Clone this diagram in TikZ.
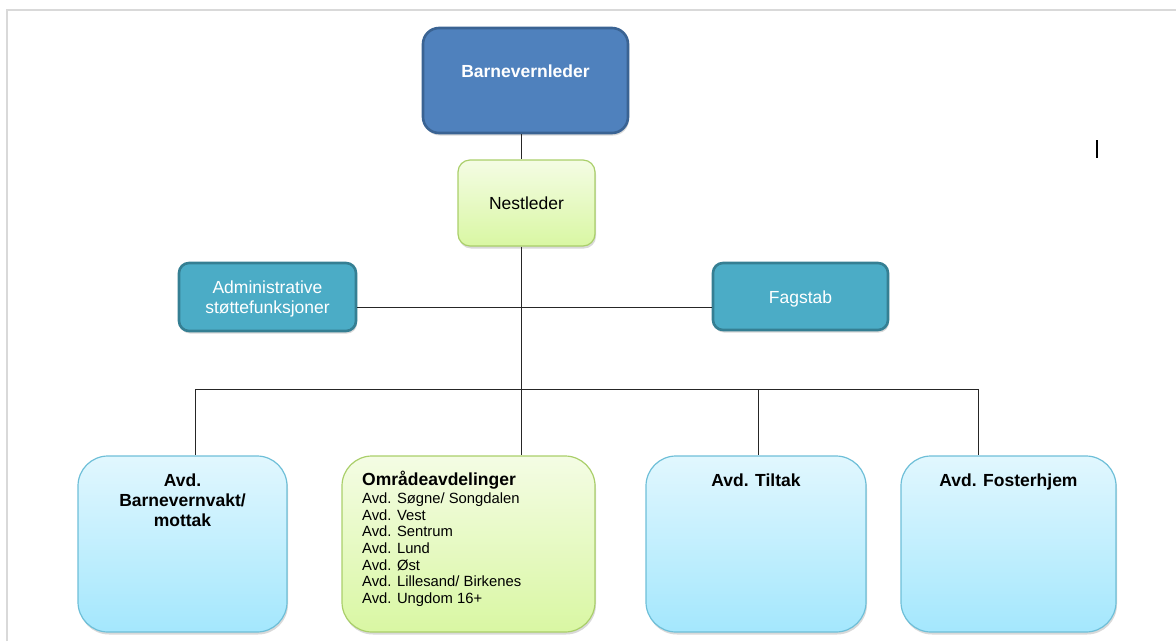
\documentclass[tikz,border=0pt]{standalone}
\usepackage{fontspec}
\setmainfont{Liberation Sans}
\usetikzlibrary{shadows}
\definecolor{bossfill}{HTML}{4F81BD}
\definecolor{bossdraw}{HTML}{3A6393}
\definecolor{stabfill}{HTML}{4BACC6}
\definecolor{stabdraw}{HTML}{357F93}
\definecolor{greentop}{HTML}{F4FCE4}
\definecolor{greenbot}{HTML}{D9F7A3}
\definecolor{greendraw}{HTML}{AACF6A}
\definecolor{bluetop}{HTML}{E1F7FE}
\definecolor{bluebot}{HTML}{A4E7FD}
\definecolor{bluedraw}{HTML}{6EBFD8}
\definecolor{frame}{HTML}{D9D9D9}
\tikzset{
  x=1pt, y=-1pt,
  shad/.style={drop shadow={shadow xshift=1pt, shadow yshift=-2.5pt, opacity=0.25, fill=black!60}},
  boss/.style={rectangle, draw=bossdraw, line width=2.6pt, fill=bossfill, rounded corners=16pt, shad},
  stab/.style={rectangle, draw=stabdraw, line width=2.6pt, fill=stabfill, rounded corners=10pt, shad},
  greenbox/.style={rectangle, draw=greendraw, line width=1.2pt, top color=greentop, bottom color=greenbot, shad},
  bluebox/.style={rectangle, draw=bluedraw, line width=1.2pt, top color=bluetop, bottom color=bluebot, rounded corners=30pt, shad},
  conn/.style={draw=black!85, line width=1pt},
  big/.style={font=\fontsize{17.5}{20}\selectfont, inner sep=0pt},
  bigb/.style={font=\fontsize{17.5}{20}\selectfont\bfseries, inner sep=0pt},
  small/.style={font=\fontsize{14.8}{16.7}\selectfont, inner sep=0pt},
}
\newcommand{\boxat}[6]{\node[#1, minimum width=#4-#2, minimum height=#5-#3] (#6) at ({(#2+#4)/2},{(#3+#5)/2}) {};}
\begin{document}
\begin{tikzpicture}
\useasboundingbox (0,0) rectangle (1176,641);
% frame
\draw[frame, line width=2pt] (7,641) -- (7,10) -- (1176,10);
% coordinates
\coordinate (sp) at (521,0);
\coordinate (hy) at (0,307);
\coordinate (c1) at (195,389);
\coordinate (c3) at (758,389);
\coordinate (c4) at (978,389);
% boxes
\boxat{boss}{423}{28}{628}{133}{bl}
\boxat{greenbox, rounded corners=12pt}{458}{160}{595}{246}{ns}
\boxat{stab}{179}{263}{356}{331}{adm}
\boxat{stab}{713}{263}{888}{330}{fag}
\boxat{bluebox}{78}{456}{287}{632}{b1}
\boxat{greenbox, rounded corners=30pt}{342}{456}{595}{632}{b2}
\boxat{bluebox}{646}{456}{866}{632}{b3}
\boxat{bluebox}{901}{456}{1116}{632}{b4}
% connectors
\draw[conn] (bl.south -| sp) -- (ns.north -| sp);
\draw[conn] (ns.south -| sp) -- (b2.north -| sp);
\draw[conn] (adm.east |- hy) -- (fag.west |- hy);
\draw[conn] (c1) -- (c4);
\draw[conn] (c1) -- (c1 |- b1.north);
\draw[conn] (c3) -- (c3 |- b3.north);
\draw[conn] (c4) -- (c4 |- b4.north);
% texts
\node[bigb, text=white] (blt) at (525.5,71) {Barnevernleder};
\node[big] (nst) at (526.5,203) {Nestleder};
\node[big, text=white, align=center] (admt) at (267.5,298.5) {Administrative\\støttefunksjoner};
\node[big, text=white] (fagt) at (800.5,298.5) {Fagstab};
\node[bigb, align=center] (b1t) at (182.5,500) {Avd.\\Barnevernvakt/\\mottak};
\node[bigb, anchor=west] (b2t) at (362,480) {Områdeavdelinger};
\node[small, anchor=north west, align=left] (b2l) at (362,492.5) {Avd. Søgne/ Songdalen\\Avd. Vest\\Avd. Sentrum\\Avd. Lund\\Avd. Øst\\Avd. Lillesand/ Birkenes\\Avd. Ungdom 16+};
\node[bigb] (b3t) at (756,480) {Avd. Tiltak};
\node[bigb] (b4t) at (1008.5,482) {Avd. Fosterhjem};
% text cursor
\coordinate (cur1) at (1097,140);
\coordinate (cur2) at (1097,158);
\draw[line width=1.2pt] (cur1) -- (cur2);
\end{tikzpicture}
\end{document}
